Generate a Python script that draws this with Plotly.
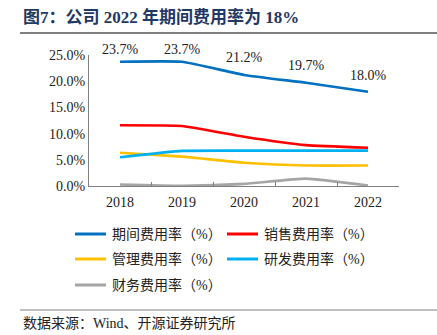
import plotly.graph_objects as go

years = ["2018", "2019", "2020", "2021", "2022"]
period_rate = [23.7, 23.7, 21.2, 19.7, 18.0]
sales_rate = [11.6, 11.45, 9.4, 7.8, 7.3]
admin_rate = [6.35, 5.6, 4.45, 3.9, 3.9]
rd_rate = [5.5, 6.7, 6.75, 6.75, 6.75]
finance_rate = [0.3, 0.05, 0.4, 1.4, 0.1]

series = [
    ("期间费用率（%）", period_rate, "#0070C0"),
    ("销售费用率（%）", sales_rate, "#FF0000"),
    ("管理费用率（%）", admin_rate, "#FFC000"),
    ("研发费用率（%）", rd_rate, "#00B0F0"),
    ("财务费用率（%）", finance_rate, "#A5A5A5"),
]

FONT = "Liberation Serif, Times New Roman, Noto Sans CJK SC, serif"

# plot-area geometry in pixels (used to place the frame decorations)
L, R, T, B = 89, 399, 55, 186
W, H = R - L, B - T


def px_x(p):
    return (p - L) / W


def px_y(p):
    return (B - p) / H


fig = go.Figure()
for name, vals, color in series:
    fig.add_trace(go.Scatter(
        x=years, y=vals, name=name, mode="lines",
        line=dict(color=color, width=2.6, shape="spline", smoothing=0.4),
        cliponaxis=False, hoverinfo="skip", showlegend=False,
    ))

annotations = []
# value labels above the total expense-rate line (x given as category index)
label_shift = [3, 3, 8, 8, 7]
for idx, (v, s) in enumerate(zip(period_rate, label_shift)):
    annotations.append(dict(
        x=idx, y=v, xref="x", yref="y", text=f"{v:.1f}%", showarrow=False,
        yshift=s, yanchor="bottom", font=dict(family=FONT, size=14, color="#222"),
    ))

shapes = [
    dict(type="line", xref="paper", yref="paper",
         x0=px_x(20), x1=px_x(437), y0=px_y(33), y1=px_y(33),
         line=dict(color="#808080", width=2)),
    dict(type="line", xref="paper", yref="paper",
         x0=px_x(20), x1=px_x(437), y0=px_y(310), y1=px_y(310),
         line=dict(color="#808080", width=1)),
]

# legend: two columns of line samples with labels
rows = [234, 259, 285]
cols = [75, 227]
for i, (name, vals, color) in enumerate(series):
    cx, ry = cols[i % 2], rows[i // 2]
    shapes.append(dict(type="line", xref="paper", yref="paper",
                       x0=px_x(cx), x1=px_x(cx + 31), y0=px_y(ry), y1=px_y(ry),
                       line=dict(color=color, width=3)))
    annotations.append(dict(text=name, xref="paper", yref="paper",
                            x=px_x(cx + 35), y=px_y(ry), xanchor="left", yanchor="middle",
                            showarrow=False, font=dict(family=FONT, size=14, color="#222")))

annotations += [
    dict(text="<b>图7：公司 2022 年期间费用率为 18%</b>", xref="paper", yref="paper",
         x=px_x(21), y=px_y(17), xanchor="left", yanchor="middle",
         showarrow=False, font=dict(family=FONT, size=17, color="#1F3864")),
    dict(text="数据来源：Wind、开源证券研究所", xref="paper", yref="paper",
         x=px_x(21), y=px_y(323), xanchor="left", yanchor="middle",
         showarrow=False, font=dict(family=FONT, size=14, color="#222")),
]

fig.update_layout(
    width=437, height=335,
    margin=dict(l=L, r=437 - R, t=T, b=335 - B),
    plot_bgcolor="white", paper_bgcolor="white",
    font=dict(family=FONT, size=13, color="#222"),
    showlegend=False,
    xaxis=dict(
        type="category", showline=True, linecolor="#808080", linewidth=1,
        ticks="inside", tickson="boundaries", ticklen=4, tickcolor="#808080",
        showgrid=False, tickfont=dict(family=FONT, size=14, color="#222"),
        range=[-0.5, 4.5], ticklabelstandoff=3,
    ),
    yaxis=dict(
        range=[0, 25], dtick=5, tickformat=".1f", ticksuffix="%",
        showline=True, linecolor="#808080", linewidth=1,
        showgrid=False, zeroline=False, ticks="",
        tickfont=dict(family=FONT, size=14, color="#222"),
        ticklabelstandoff=0,
    ),
    shapes=shapes,
    annotations=annotations,
)

fig.write_html("out.html")
